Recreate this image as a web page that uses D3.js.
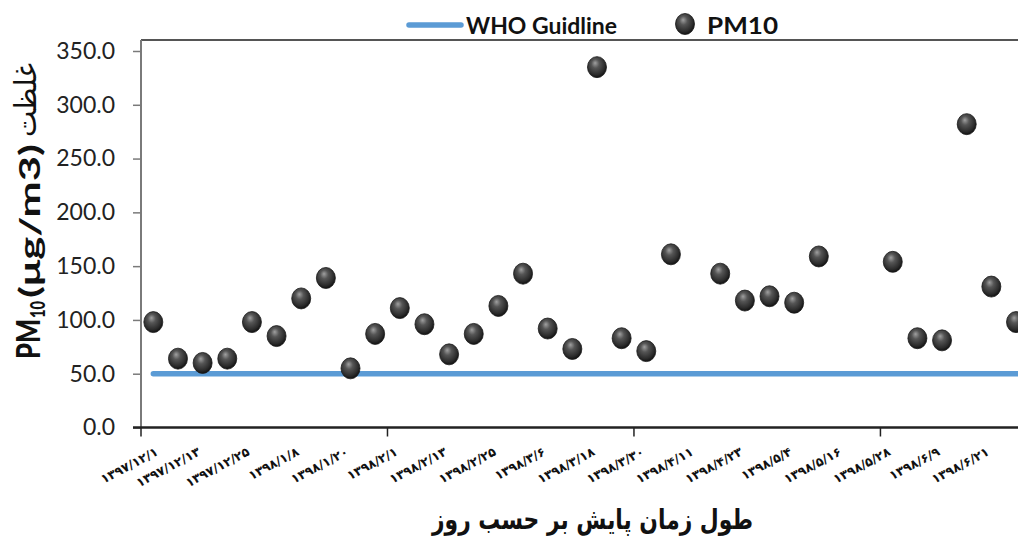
<!DOCTYPE html>
<html lang="fa">
<head>
	<meta charset="UTF-8">
	<title>PM10 scatter</title>
	<script src="https://cdn.jsdelivr.net/npm/d3@7"></script>
	<style>
		body{ margin:0; background:#fff; }
		text{ font-family: Lato, "Open Sans", sans-serif; fill:#111; }
		.y.axis text{ font-size:23px; fill:#222; }
		.y.axis path.domain{ stroke:#7a7a7a; stroke-width:2px; }
		.y.axis .tick line{ stroke:#7a7a7a; stroke-width:1.5px; }
		.xlab{ font-family:"DejaVu Sans", sans-serif; font-size:12.5px; font-weight:bold; }
		.fa{ font-family:"DejaVu Sans", sans-serif; }
	</style>
</head>
<body>
	<div id=main></div>
	<script type="text/javascript">
		// sample days counted from 1397/12/1
		var sampleDays = [3, 9, 15, 21, 27, 33, 39, 45, 51, 57, 63, 69, 75, 81, 87, 93, 99, 105, 111, 117, 123, 129,
			141, 147, 153, 159, 165, 183, 189, 195, 201, 207, 213];
		var pm10 = [98, 64, 60, 64, 98, 85, 120, 139, 55, 87, 111, 96, 68, 87, 113, 143, 92, 73,
			335, 83, 71, 161, 143, 118, 122, 116, 159, 154, 83, 81, 282, 131, 98];
		var whoLimit = 50;
		var whoDays = [3, 213];

		var labelDays = [0, 12, 24, 36, 48, 60, 72, 84, 96, 108, 120, 132, 144, 156, 168, 180, 192, 204];
		var labelText = ["۱۳۹۷/۱۲/۱", "۱۳۹۷/۱۲/۱۳", "۱۳۹۷/۱۲/۲۵", "۱۳۹۸/۱/۸", "۱۳۹۸/۱/۲۰", "۱۳۹۸/۲/۱",
			"۱۳۹۸/۲/۱۳", "۱۳۹۸/۲/۲۵", "۱۳۹۸/۳/۶", "۱۳۹۸/۳/۱۸", "۱۳۹۸/۳/۳۰", "۱۳۹۸/۴/۱۱",
			"۱۳۹۸/۴/۲۳", "۱۳۹۸/۵/۴", "۱۳۹۸/۵/۱۶", "۱۳۹۸/۵/۲۸", "۱۳۹۸/۶/۹", "۱۳۹۸/۶/۲۱"];
		var majorTicks = [0, 60, 120, 180];

		var width = 1018,
			height = 539,
			margin = {left:141, top:40, bottom:427.5};

		var svg = d3.select("#main").append("svg")
			.attr("width", width)
			.attr("height", height);

		var defs = svg.append("defs");
		var grad = defs.append("radialGradient")
			.attr("id", "ball")
			.attr("cx", "45%").attr("cy", "40%").attr("r", "60%")
			.attr("fx", "40%").attr("fy", "30%");
		grad.append("stop").attr("offset", "0%").attr("stop-color", "#a0a0a0");
		grad.append("stop").attr("offset", "35%").attr("stop-color", "#555");
		grad.append("stop").attr("offset", "80%").attr("stop-color", "#2b2b2b");
		grad.append("stop").attr("offset", "100%").attr("stop-color", "#111");

		var x = d3.scaleLinear()
			.domain([0, 216])
			.range([margin.left, margin.left + 216*4.108]);

		var y = d3.scaleLinear()
			.domain([0, 350])
			.range([margin.bottom, 51]);

		// top frame
		svg.append("line")
			.attr("x1", margin.left).attr("x2", width)
			.attr("y1", margin.top).attr("y2", margin.top)
			.style("stroke", "#555").style("stroke-width", 2);

		var yAxis = svg.append("g")
			.attr("class", "y axis")
			.attr("transform", "translate(" + margin.left + ",0)")
			.call(d3.axisLeft(y).ticks(7).tickSize(8).tickPadding(18).tickSizeOuter(0).tickFormat(d3.format(".1f")));
		yAxis.select("path.domain").attr("d", "M0," + margin.top + "V" + margin.bottom);

		// x axis
		svg.append("line")
			.attr("x1", margin.left - 8).attr("x2", width)
			.attr("y1", margin.bottom).attr("y2", margin.bottom)
			.style("stroke", "#222").style("stroke-width", 2.5);

		svg.selectAll("line.xtick")
			.data(majorTicks)
			.enter()
			.append("line")
			.attr("class", "xtick")
			.attr("x1", function(d){return x(d)}).attr("x2", function(d){return x(d)})
			.attr("y1", margin.bottom).attr("y2", margin.bottom + 9)
			.style("stroke", "#222").style("stroke-width", 1.5);

		svg.selectAll("text.xlab")
			.data(labelDays)
			.enter()
			.append("text")
			.attr("class", "xlab")
			.attr("text-anchor", "end")
			.attr("direction", "ltr")
			.attr("transform", function(d, i){return "translate(" + (x(d) + (i == 0 ? 18 : 11)) + "," + (margin.bottom + 27) + ") rotate(-28)"})
			.text(function(d, i){return labelText[i]});

		// WHO line
		svg.append("line")
			.attr("x1", x(whoDays[0])).attr("x2", x(whoDays[1]) + 20)
			.attr("y1", y(whoLimit)).attr("y2", y(whoLimit))
			.style("stroke", "#5b9bd5").style("stroke-width", 5.5)
			.style("stroke-linecap", "round");

		svg.selectAll("ellipse.point")
			.data(sampleDays)
			.enter()
			.append("ellipse")
			.attr("class", "point")
			.attr("cx", function(d){return x(d)})
			.attr("cy", function(d, i){return y(pm10[i])})
			.attr("rx", 9.5)
			.attr("ry", 10.5)
			.style("fill", "url(#ball)")
			.style("stroke", "#1a1a1a")
			.style("stroke-width", 0.8);

		// legend
		var legend = svg.append("g");
		legend.append("line")
			.attr("x1", 409).attr("x2", 461).attr("y1", 25).attr("y2", 25)
			.style("stroke", "#5b9bd5").style("stroke-width", 5.5).style("stroke-linecap", "round");
		legend.append("text")
			.attr("x", 466).attr("y", 34)
			.style("font-size", "23px").style("font-weight", "bold")
			.attr("textLength", 151).attr("lengthAdjust", "spacingAndGlyphs")
			.text("WHO Guidline");
		legend.append("ellipse")
			.attr("cx", 685).attr("cy", 24).attr("rx", 9.5).attr("ry", 10.5)
			.style("fill", "url(#ball)").style("stroke", "#1a1a1a").style("stroke-width", 0.8);
		legend.append("text")
			.attr("x", 707).attr("y", 34)
			.style("font-size", "23px").style("font-weight", "bold")
			.attr("textLength", 71).attr("lengthAdjust", "spacingAndGlyphs")
			.text("PM10");

		// axis titles
		svg.append("text")
			.attr("class", "fa")
			.attr("x", 432).attr("y", 529)
			.style("font-size", "28px").style("font-weight", "bold")
			.attr("textLength", 321).attr("lengthAdjust", "spacingAndGlyphs")
			.text("طول زمان پایش بر حسب روز");

		// y title, rotated; x runs upward from the bottom
		var yTitle = svg.append("g")
			.attr("transform", "translate(40,0) rotate(-90)");
		yTitle.append("text")
			.attr("x", -359).attr("y", 0)
			.style("font-size", "33px").style("font-weight", "900")
			.attr("textLength", 40).attr("lengthAdjust", "spacingAndGlyphs")
			.text("PM");
		yTitle.append("text")
			.attr("x", -318).attr("y", 5)
			.style("font-size", "20px").style("font-weight", "900")
			.attr("textLength", 17).attr("lengthAdjust", "spacingAndGlyphs")
			.text("10");
		yTitle.append("text")
			.attr("x", -298).attr("y", 0)
			.style("font-size", "28px").style("font-weight", "bold")
			.attr("textLength", 154).attr("lengthAdjust", "spacingAndGlyphs")
			.text("(μg/m3)");
		yTitle.append("text")
			.attr("class", "fa")
			.attr("x", -137).attr("y", -4)
			.attr("direction", "ltr")
			.style("font-size", "30px")
			.attr("textLength", 74).attr("lengthAdjust", "spacingAndGlyphs")
			.text("غلظت");
	</script>
</body>
</html>
